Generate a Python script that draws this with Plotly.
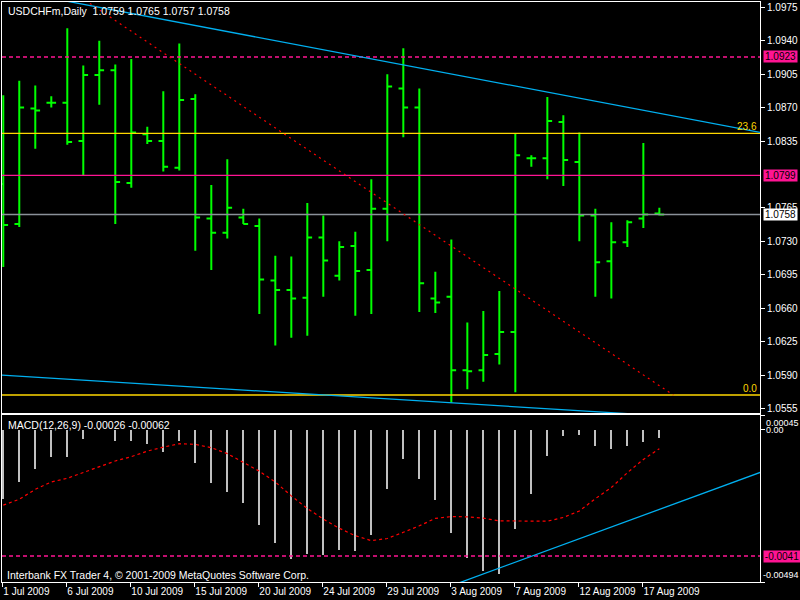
import plotly.graph_objects as go

# ---------------- data ----------------
bar_index = list(range(42))
open_ = [1.0790, 1.0748, 1.0869, 1.0875, 1.0875, 1.0835, 1.0904, 1.0909, 1.0791, 1.0842,
         1.0835, 1.0807, 1.0879, 1.0754, 1.0739, 1.0755, 1.0746, 1.0689, 1.0679, 1.0671,
         1.0734, 1.0694, 1.0725, 1.0700, 1.0764, 1.0890, 1.0870, 1.0670, 1.0672, 1.0595,
         1.0595, 1.0612, 1.0635, 1.0817, 1.0817, 1.0855, 1.0813, 1.0757, 1.0709, 1.0729,
         1.0754, 1.0759]
high = [1.0883, 1.0898, 1.0893, 1.0882, 1.0953, 1.0914, 1.0940, 1.0915, 1.0921, 1.0850,
        1.0887, 1.0937, 1.0884, 1.0789, 1.0816, 1.0764, 1.0754, 1.0715, 1.0714, 1.0770,
        1.0757, 1.0730, 1.0740, 1.0795, 1.0905, 1.0932, 1.0890, 1.0698, 1.0732, 1.0645,
        1.0657, 1.0678, 1.0843, 1.0820, 1.0881, 1.0862, 1.0844, 1.0764, 1.0750, 1.0752,
        1.0833, 1.0765]
low = [1.0703, 1.0745, 1.0827, 1.0870, 1.0831, 1.0799, 1.0873, 1.0748, 1.0786, 1.0832,
       1.0803, 1.0804, 1.0720, 1.0700, 1.0733, 1.0748, 1.0654, 1.0621, 1.0629, 1.0631,
       1.0672, 1.0689, 1.0652, 1.0654, 1.0730, 1.0839, 1.0656, 1.0655, 1.0561, 1.0575,
       1.0583, 1.0601, 1.0572, 1.0808, 1.0795, 1.0788, 1.0730, 1.0672, 1.0670, 1.0724,
       1.0744, 1.0757]
close = [1.0747, 1.0870, 1.0867, 1.0875, 1.0834, 1.0904, 1.0909, 1.0792, 1.0844, 1.0835,
         1.0808, 1.0878, 1.0755, 1.0739, 1.0765, 1.0748, 1.0690, 1.0679, 1.0670, 1.0734,
         1.0710, 1.0724, 1.0699, 1.0764, 1.0892, 1.0870, 1.0686, 1.0666, 1.0595, 1.0594,
         1.0611, 1.0635, 1.0820, 1.0817, 1.0856, 1.0815, 1.0757, 1.0708, 1.0729, 1.0750,
         1.0758, 1.0758]

macd_main = [-0.00226, -0.00170, -0.00129, -0.00089, -0.00089, -0.00031, 0.00001, -0.00038,
             -0.00038, -0.00046, -0.00073, -0.00038, -0.00109, -0.00173, -0.00202, -0.00238,
             -0.00309, -0.00367, -0.00419, -0.00402, -0.00407, -0.00390, -0.00393, -0.00341,
             -0.00193, -0.00097, -0.00161, -0.00228, -0.00335, -0.00415, -0.00458, -0.00467,
             -0.00322, -0.00209, -0.00086, -0.00022, -0.00018, -0.00054, -0.00064, -0.00054,
             -0.00041, -0.00026]
macd_signal = [-0.00245, -0.00226, -0.00194, -0.00170, -0.00158, -0.00140, -0.00120, -0.00102,
               -0.00088, -0.00070, -0.00057, -0.00046, -0.00048, -0.00059, -0.00078, -0.00106,
               -0.00135, -0.00170, -0.00215, -0.00256, -0.00290, -0.00320, -0.00344, -0.00360,
               -0.00353, -0.00333, -0.00312, -0.00288, -0.00282, -0.00283, -0.00287, -0.00296,
               -0.00296, -0.00298, -0.00297, -0.00285, -0.00264, -0.00224, -0.00188, -0.00140,
               -0.00097, -0.00062]

date_tick_index = [0, 4, 8, 12, 16, 20, 24, 28, 32, 36, 40]
date_tick_labels = ["1 Jul 2009", "6 Jul 2009", "10 Jul 2009", "15 Jul 2009", "20 Jul 2009",
                    "24 Jul 2009", "29 Jul 2009", "3 Aug 2009", "7 Aug 2009", "12 Aug 2009",
                    "17 Aug 2009"]
price_ticks = [1.0975, 1.0940, 1.0905, 1.0870, 1.0835, 1.0765, 1.0730, 1.0695, 1.0660,
               1.0625, 1.0590, 1.0555]

# drawn objects (bar index, value)
upper_channel_x = [0.0, 47.3]
upper_channel_y = [1.0994, 1.0844]
lower_channel_x = [-0.21, 47.3]
lower_channel_y = [1.0590, 1.0541]
fib_trend_x = [4.79, 41.875]
fib_trend_y = [1.0986, 1.0569]
macd_trend_x = [28.0, 47.3]
macd_trend_y = [-0.00506, -0.00139]

fib_levels = [1.0843, 1.0569]
fib_names = ["23.6", "0.0"]
resistance_level = 1.0923
pivot_level = 1.0799
bid_level = 1.0758
macd_level = -0.0041

# ---------------- styling ----------------
FONT = "Liberation Sans, Arial, sans-serif"
GREEN = "#00ff00"
PINK = "#ff1493"
BLUE = "#00b0f0"
GOLD = "#ffd700"
WHITE = "#ffffff"

XR = [-0.08, 47.29]

fig = go.Figure()

fig.add_trace(go.Ohlc(
    x=bar_index, open=open_, high=high, low=low, close=close,
    increasing=dict(line=dict(color=GREEN, width=2)),
    decreasing=dict(line=dict(color=GREEN, width=2)),
    tickwidth=0.3, xaxis="x", yaxis="y", showlegend=False, hoverinfo="skip"))

# horizontal levels
for lvl, col, dash in [(resistance_level, PINK, "4px,3px"), (pivot_level, PINK, "solid"),
                       (bid_level, "#8a9199", "solid"),
                       (fib_levels[0], GOLD, "solid"), (fib_levels[1], GOLD, "solid")]:
    fig.add_trace(go.Scatter(x=XR, y=[lvl, lvl], mode="lines", xaxis="x", yaxis="y",
                             line=dict(color=col, width=1.4, dash=dash),
                             showlegend=False, hoverinfo="skip"))

fig.add_trace(go.Scatter(x=upper_channel_x, y=upper_channel_y, mode="lines",
                         line=dict(color=BLUE, width=1.3), xaxis="x", yaxis="y",
                         showlegend=False, hoverinfo="skip"))
fig.add_trace(go.Scatter(x=lower_channel_x, y=lower_channel_y, mode="lines",
                         line=dict(color=BLUE, width=1.3), xaxis="x", yaxis="y",
                         showlegend=False, hoverinfo="skip"))
fig.add_trace(go.Scatter(x=fib_trend_x, y=fib_trend_y, mode="lines",
                         line=dict(color="#ff0000", width=1.2, dash="2px,4px"),
                         xaxis="x", yaxis="y", showlegend=False, hoverinfo="skip"))

# MACD
fig.add_trace(go.Bar(x=bar_index, y=macd_main, width=0.14, marker=dict(color="#c0c0c0", line=dict(width=0)),
                     xaxis="x2", yaxis="y2", showlegend=False, hoverinfo="skip"))
fig.add_trace(go.Scatter(x=bar_index, y=macd_signal, mode="lines",
                         line=dict(color="#ff0000", width=1.2, dash="3px,3px"),
                         xaxis="x2", yaxis="y2", showlegend=False, hoverinfo="skip"))
fig.add_trace(go.Scatter(x=XR, y=[macd_level, macd_level], mode="lines",
                         line=dict(color=PINK, width=1.4, dash="4px,3px"),
                         xaxis="x2", yaxis="y2", showlegend=False, hoverinfo="skip"))
fig.add_trace(go.Scatter(x=macd_trend_x, y=macd_trend_y, mode="lines",
                         line=dict(color=BLUE, width=1.3), xaxis="x2", yaxis="y2",
                         showlegend=False, hoverinfo="skip"))

W, H = 800, 600
L, R, T, B = 2, 40, 2, 18
PW, PH = W - L - R, H - T - B


def px_x(p):
    return (p - L) / PW


def px_y(p):
    return (H - B - p) / PH


main_dom = [px_y(413), 1.0]
macd_dom = [0.0, px_y(415)]

axis_common = dict(showgrid=False, zeroline=False, showline=True, mirror=True,
                   linecolor=WHITE, linewidth=1, fixedrange=True)

fig.update_layout(
    width=W, height=H,
    margin=dict(l=L, r=R, t=T, b=B),
    paper_bgcolor="#000000", plot_bgcolor="#000000",
    font=dict(family=FONT, size=10, color=WHITE),
    bargap=0,
    xaxis=dict(domain=[0, 1], range=XR, anchor="y", showticklabels=False, ticks="",
               rangeslider=dict(visible=False), **axis_common),
    yaxis=dict(domain=main_dom, range=[1.055023, 1.098055], anchor="x", side="right",
               tickvals=price_ticks, ticktext=[f"{v:.4f}" for v in price_ticks],
               ticks="outside", ticklen=4, tickcolor=WHITE,
               tickfont=dict(family=FONT, size=10, color=WHITE), **axis_common),
    xaxis2=dict(domain=[0, 1], range=XR, anchor="y2",
                tickvals=[i - 0.06 for i in date_tick_index], ticktext=date_tick_labels,
                ticks="outside", ticklen=4, tickcolor=WHITE, ticklabelposition="outside right",
                tickangle=0,
                tickfont=dict(family=FONT, size=10, color=WHITE), **axis_common),
    yaxis2=dict(domain=macd_dom, range=[-0.00494, 0.00047], anchor="x2", side="right",
                tickvals=[0.00045, 0.0, -0.00494], showticklabels=False,
                ticks="outside", ticklen=4, tickcolor=WHITE, **axis_common),
)

ann = []
ann.append(dict(xref="paper", yref="paper", x=px_x(6), y=px_y(11), xanchor="left", yanchor="middle",
                text="USDCHFm,Daily  1.0759 1.0765 1.0757 1.0758", showarrow=False,
                font=dict(family=FONT, size=10.5, color=WHITE)))
ann.append(dict(xref="paper", yref="paper", x=px_x(6), y=px_y(425.5), xanchor="left", yanchor="middle",
                text="MACD(12,26,9) -0.00026 -0.00062", showarrow=False,
                font=dict(family=FONT, size=10.5, color=WHITE)))
ann.append(dict(xref="paper", yref="paper", x=px_x(5), y=px_y(574.5), xanchor="left", yanchor="middle",
                text="Interbank FX Trader 4, © 2001-2009 MetaQuotes Software Corp.", showarrow=False,
                font=dict(family=FONT, size=10.5, color=WHITE)))

# price boxes
for lvl, bg, yref in [(resistance_level, PINK, "y"), (pivot_level, PINK, "y"), (bid_level, WHITE, "y")]:
    ann.append(dict(xref="paper", yref=yref, x=px_x(762.5), y=lvl, xanchor="left", yanchor="middle",
                    text=f"{lvl:.4f}", showarrow=False, bgcolor=bg, width=33, height=11,
                    borderpad=0, align="center", font=dict(family=FONT, size=10, color="#000000")))
ann.append(dict(xref="paper", yref="y2", x=px_x(762.5), y=macd_level, xanchor="left", yanchor="middle",
                text=f"{macd_level:.4f}", showarrow=False, bgcolor=PINK, width=36, height=11,
                borderpad=0, align="center", font=dict(family=FONT, size=10, color="#000000")))

# MACD scale labels
for txt, yy, xx in [("0.00045", 423, 765), ("0.00", 429.7, 765), ("-0.00494", 575, 762)]:
    ann.append(dict(xref="paper", yref="paper", x=px_x(xx), y=px_y(yy), xanchor="left", yanchor="middle",
                    text=txt, showarrow=False, borderpad=0, font=dict(family=FONT, size=9, color=WHITE)))

# fib labels
for lvl, name in zip(fib_levels, fib_names):
    ann.append(dict(xref="paper", yref="y", x=px_x(758), y=lvl, xanchor="right", yanchor="bottom",
                    text=name, showarrow=False, borderpad=0,
                    font=dict(family=FONT, size=10, color=GOLD)))

fig.update_layout(annotations=ann)

fig.write_html("out.html", config={"displayModeBar": False},
               post_script="document.body.style.margin='0px';")
